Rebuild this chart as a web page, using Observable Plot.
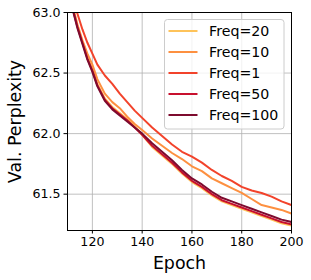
<!DOCTYPE html>
<html><head><meta charset="utf-8">
<script src="https://cdn.jsdelivr.net/npm/d3@7"></script>
<script src="https://cdn.jsdelivr.net/npm/@observablehq/plot@0.6"></script>
<style>body{margin:0;background:#fff;} svg{font-family:"DejaVu Sans";}</style>
</head><body><div id="chart"></div>
<script>
const epochs  = [110,112,114,116,118,120,122,125,128,131,134,137,140,144,148,152,156,160,164,168,172,176,180,184,188,192,196,200];
const freq20  = [63.26,63.05,62.89,62.76,62.63,62.53,62.41,62.29,62.22,62.17,62.12,62.06,61.99,61.89,61.82,61.75,61.67,61.60,61.55,61.49,61.44,61.41,61.38,61.35,61.32,61.29,61.26,61.24];
const freq10  = [63.25,63.06,62.90,62.77,62.66,62.57,62.45,62.33,62.26,62.21,62.14,62.08,62.03,61.96,61.90,61.84,61.79,61.73,61.69,61.63,61.59,61.55,61.51,61.46,61.41,61.39,61.37,61.34];
const freq1   = [63.30,63.12,62.99,62.86,62.75,62.66,62.57,62.48,62.41,62.33,62.26,62.19,62.13,62.05,61.98,61.91,61.85,61.81,61.76,61.70,61.65,61.61,61.56,61.53,61.51,61.48,61.44,61.41];
const freq50  = [63.25,63.04,62.88,62.75,62.62,62.52,62.40,62.28,62.21,62.16,62.11,62.05,61.99,61.90,61.83,61.76,61.68,61.61,61.56,61.50,61.45,61.42,61.39,61.36,61.33,61.30,61.27,61.25];
const freq100 = [63.24,63.03,62.87,62.74,62.61,62.51,62.39,62.27,62.20,62.15,62.10,62.05,62.00,61.92,61.85,61.78,61.70,61.63,61.58,61.52,61.47,61.44,61.41,61.38,61.35,61.32,61.29,61.27];
const seriesNames  = ["Freq=20","Freq=10","Freq=1","Freq=50","Freq=100"];
const seriesColors = ["#fec35a","#fd9040","#f2432b","#c8102e","#7d0b2e"];
const seriesValues = [freq20, freq10, freq1, freq50, freq100];
const xTicks = [120,140,160,180,200];
const yTicks = [61.5,62.0,62.5,63.0];
const xLabel = "Epoch";
const yLabel = "Val. Perplexity";

const rows = seriesNames.flatMap((name,i)=> epochs.map((e,j)=>({series:name, epoch:e, value:seriesValues[i][j]})));

const plot = Plot.plot({
  width:311, height:280, marginLeft:67, marginRight:20, marginTop:12, marginBottom:50,
  style:{fontFamily:"DejaVu Sans", fontSize:"12.6px", background:"white", color:"black"},
  x:{domain:[110,200]}, y:{domain:[61.2,63.0]},
  color:{domain:seriesNames, range:seriesColors},
  marks:[
    Plot.gridX(xTicks,{stroke:"#b0b0b0", strokeOpacity:1, strokeWidth:0.8}),
    Plot.gridY(yTicks,{stroke:"#b0b0b0", strokeOpacity:1, strokeWidth:0.8}),
    ...seriesNames.map(name => Plot.line(rows.filter(r=>r.series===name), {x:"epoch", y:"value", stroke:"series", strokeWidth:2, clip:true})),
    Plot.frame({stroke:"black", strokeWidth:1}),
    Plot.axisX(xTicks,{tickSize:3.5, tickPadding:3, fontSize:12.6, label:null}),
    Plot.axisY(yTicks,{tickSize:3.5, tickPadding:3.5, fontSize:12.6, tickFormat:d3.format(".1f"), label:null}),
    Plot.text([xLabel],{text:d=>d, frameAnchor:"bottom", dy:33, fontSize:17.4, textAnchor:"middle", lineAnchor:"middle"}),
    Plot.text([yLabel],{text:d=>d, frameAnchor:"left", rotate:-90, dx:-52, fontSize:17.4, textAnchor:"middle", lineAnchor:"middle"})
  ]
});

// legend (upper right, inside axes)
const svg = d3.select(plot);
const lg = svg.append("g").attr("font-family","DejaVu Sans").attr("font-size","14.2px").attr("text-anchor","start");
lg.append("rect").attr("x",164.5).attr("y",19.5).attr("width",119.5).attr("height",109.5)
  .attr("rx",3).attr("fill","white").attr("fill-opacity",0.8).attr("stroke","#cccccc").attr("stroke-width",1);
seriesNames.forEach((name,i)=>{
  const yy = 31 + 21*i;
  lg.append("line").attr("x1",168.5).attr("x2",197.5).attr("y1",yy).attr("y2",yy)
    .attr("stroke",seriesColors[i]).attr("stroke-width",2);
  lg.append("text").attr("x",209).attr("y",yy).attr("dy","0.36em").attr("text-anchor","start").attr("fill","black").text(name);
});

document.getElementById("chart").appendChild(plot);
</script>
</body></html>
